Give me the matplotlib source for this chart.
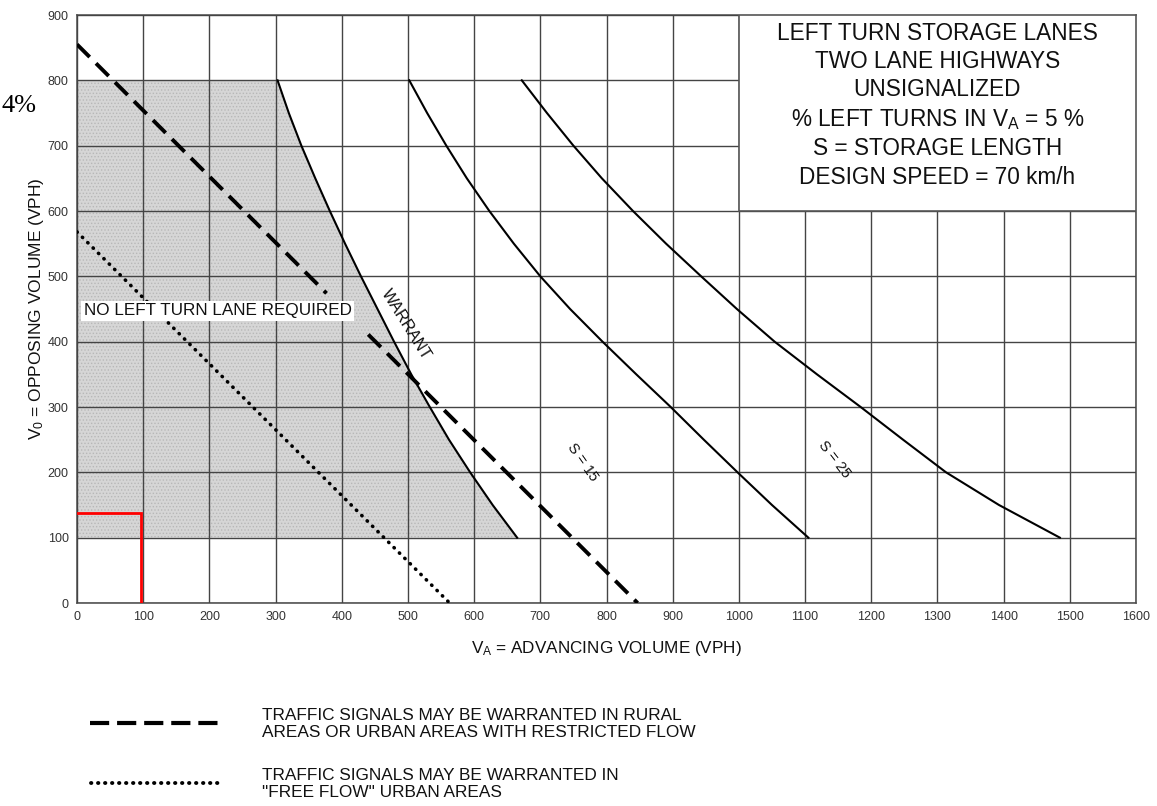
import matplotlib
matplotlib.use("Agg")
import matplotlib.pyplot as plt
from matplotlib.patches import Rectangle, Polygon

plt.rcParams['font.family'] = ['Liberation Sans', 'DejaVu Sans']
plt.rcParams['mathtext.fontset'] = 'custom'
plt.rcParams['mathtext.rm'] = 'Liberation Sans'
plt.rcParams['mathtext.it'] = 'Liberation Sans'
plt.rcParams['hatch.linewidth'] = 0.6

# ---------------- data ----------------
x_ticks = list(range(0, 1700, 100))
y_ticks = list(range(0, 1000, 100))

curve_vo = [800, 750, 700, 650, 600, 550, 500, 450, 400, 350, 300, 250, 200, 150, 100]
warrant_va = [303, 320, 339, 360, 382, 405, 429, 454, 479, 505, 533, 562, 594, 628, 665]
s15_va = [502, 529, 558, 589, 623, 660, 700, 745, 794, 845, 897, 947, 998, 1050, 1105]
s25_va = [672, 710, 750, 793, 840, 890, 943, 997, 1054, 1118, 1184, 1248, 1313, 1393, 1485]

rural_seg1_va = [0, 377]
rural_seg1_vo = [855, 474]
rural_seg2_va = [440, 847]
rural_seg2_vo = [411, 0]

urban_va = [0, 563]
urban_vo = [568, 0]

red_va = [0, 97, 97]
red_vo = [138, 138, 0]

shade_vo_min, shade_vo_max = 100, 800

title_lines = ["LEFT TURN STORAGE LANES", "TWO LANE HIGHWAYS", "UNSIGNALIZED",
               r"% LEFT TURNS IN $\mathregular{V_A}$ = 5 %", "S = STORAGE LENGTH",
               "DESIGN SPEED = 70 km/h"]
legend_rural = "TRAFFIC SIGNALS MAY BE WARRANTED IN RURAL\nAREAS OR URBAN AREAS WITH RESTRICTED FLOW"
legend_urban = "TRAFFIC SIGNALS MAY BE WARRANTED IN\n\"FREE FLOW\" URBAN AREAS"

# ---------------- figure ----------------
fig = plt.figure(figsize=(11.57, 8.06), dpi=100)
ax = fig.add_axes([77/1157, 1-603/806, (1136-77)/1157, (603-15)/806])
ax.set_xlim(0, 1600)
ax.set_ylim(0, 900)
ax.set_xticks(x_ticks)
ax.set_yticks(y_ticks)
ax.tick_params(length=0, labelsize=9, labelcolor='#333333', pad=6)
ax.set_axisbelow(False)
ax.grid(True, color='#444444', linewidth=1.0, zorder=2)
for sp in ax.spines.values():
    sp.set_color('#555555')
    sp.set_linewidth(1.2)

ax.set_xlabel(r"$\mathregular{V_A}$ = ADVANCING VOLUME (VPH)", fontsize=12.3, labelpad=11, color='#111111')
ax.set_ylabel(r"$\mathregular{V_0}$ = OPPOSING VOLUME (VPH)", fontsize=12.5, labelpad=1, color='#111111')

# shaded region
shade_pts = [(0, shade_vo_min), (0, shade_vo_max)] + \
    [(va, vo) for va, vo in zip(warrant_va, curve_vo)]
ax.add_patch(Polygon(shade_pts, closed=True, facecolor='#d6d6d6', edgecolor='#b8b8b8',
                     hatch='.....', linewidth=0, zorder=1))

# curves
for va in (warrant_va, s15_va, s25_va):
    ax.plot(va, curve_vo, color='black', linewidth=1.5, zorder=3)

# rural dashed
dash_style = (0, (4.6, 2.3))
ax.plot(rural_seg1_va, rural_seg1_vo, color='black', linewidth=2.8, linestyle=dash_style, zorder=3)
ax.plot(rural_seg2_va, rural_seg2_vo, color='black', linewidth=2.8, linestyle=dash_style, zorder=3)
# urban dotted
ax.plot(urban_va, urban_vo, color='black', linewidth=2.6, linestyle=(0, (0.1, 2.0)),
        dash_capstyle='round', zorder=3)

# red lines
ax.plot(red_va, red_vo, color='#ff0000', linewidth=2, zorder=3, solid_joinstyle='miter')

# title box
ax.add_patch(Rectangle((1000, 600), 600, 300, facecolor='white', edgecolor='#555555',
                       linewidth=1.2, zorder=4))
ax.text(1300, 762, "\n".join(title_lines), ha='center', va='center', fontsize=16.3,
        linespacing=1.3, color='#111111', zorder=5)

# labels in plot
ax.text(10, 447, "NO LEFT TURN LANE REQUIRED", ha='left', va='center', fontsize=12.3,
        color='#111111', zorder=5,
        bbox=dict(boxstyle='square,pad=0.15', facecolor='white', edgecolor='none'))
ax.text(497, 426, "WARRANT", rotation=-58, ha='center', va='center', fontsize=11.5,
        color='#111111', zorder=5, rotation_mode='anchor')
ax.text(764, 216, "S = 15", rotation=-55, ha='center', va='center', fontsize=10.5,
        color='#111111', zorder=5, rotation_mode='anchor')
ax.text(1145, 219, "S = 25", rotation=-52, ha='center', va='center', fontsize=10.5,
        color='#111111', zorder=5, rotation_mode='anchor')

# stray "4%" text
fig.text(2/1157, 1-106/806, "4%", ha='left', va='center', fontsize=19,
         family=['Liberation Serif', 'DejaVu Serif'], color='black')

# legend
fig.add_artist(plt.Line2D([90/1157, 220/1157], [1-723/806, 1-723/806], color='black',
                          linewidth=3, linestyle=(0, (4.6, 1.9)), transform=fig.transFigure))
fig.add_artist(plt.Line2D([91/1157, 218/1157], [1-783/806, 1-783/806], color='black',
                          linewidth=2.8, linestyle=(0, (0.1, 1.7)), dash_capstyle='round',
                          transform=fig.transFigure))
fig.text(262/1157, 1-724/806, legend_rural, ha='left', va='center', fontsize=12.4,
         linespacing=1.2, color='#111111')
fig.text(262/1157, 1-784/806, legend_urban, ha='left', va='center', fontsize=12.4,
         linespacing=1.2, color='#111111')

fig.savefig("out.png", dpi=100)
